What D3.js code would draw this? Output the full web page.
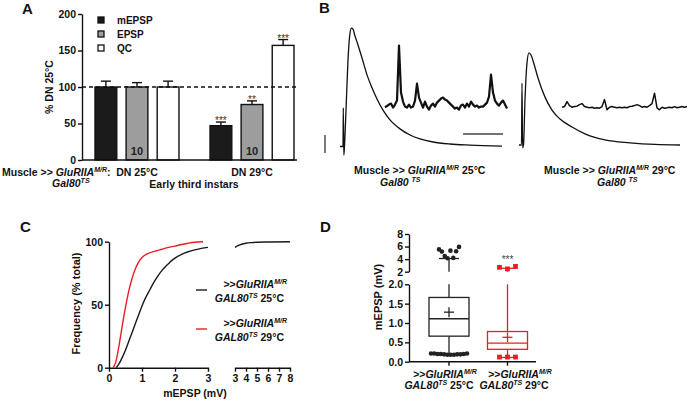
<!DOCTYPE html>
<html>
<head>
<meta charset="utf-8">
<script src="https://cdn.jsdelivr.net/npm/d3@7"></script>
<style>
  body { margin: 0; background: #fff; }
  svg { display: block; }
</style>
</head>
<body>
<svg id="fig" width="688" height="402"></svg>
<script>
// ---- panel A data
const groups = ['DN 25°C', 'DN 29°C'];
const series = ['mEPSP', 'EPSP', 'QC'];
const meansDN25 = [100, 100, 100];
const semDN25 = [8, 6, 8];
const meansDN29 = [47, 76, 157];
const semDN29 = [5, 5, 8];
const starsDN29 = ['***', '**', '***'];
const aTicks = [0, 50, 100, 150, 200];

// ---- panel B data (ms, mV)
const epsp25T = [0, 1.5, 1.65, 1.9, 2.25, 3, 4, 5, 5.75, 6.5, 7.5, 9, 11, 13.5, 16, 18.5, 21.5, 25, 30, 35, 40, 46.5, 55, 65, 81];
const epsp25V = [0, 0, 10.7, -2.4, 0.1, 10.1, 24, 31.5, 32.9, 32.6, 30.7, 28.2, 24.6, 19.9, 16.3, 13.2, 10.1, 7.4, 4.9, 3.2, 2.1, 1.25, 0.7, 0.4, 0.1];
const epsp29T = [0, 1.25, 1.5, 1.8, 2.25, 3, 4, 5, 6, 7.5, 9.5, 13, 16.5, 20.5, 26.5, 33, 43, 55.5, 68, 80.5];
const epsp29V = [0, 0, 17.2, -0.8, 0, 12.5, 22.8, 25.6, 25, 22.5, 18.6, 13.3, 9.7, 7.2, 5, 3.1, 1.4, 0.6, 0.15, 0];
const mini25 = [-0.01,0.05,0.12,0.17,-0.03,0.12,0.32,3.07,0.72,0.27,0.02,-0.03,0.12,-0.03,0.02,0.32,1.17,0.47,0.22,-0.03,0.27,0.02,-0.13,0.07,0.17,0.02,0.22,0.32,0.42,0.47,0.37,0.32,0.22,0.12,0.02,-0.08,-0.03,-0.13,0.07,0.12,-0.03,0.17,0.02,0.27,0.12,0.02,0.07,-0.03,0.02,0.02,0.12,0.22,0.52,1.62,0.72,0.32,0.17,0.07,0.22,0.32,0.12,-0.08];
const mini29 = [-0.01,0.02,0.27,0.07,-0.01,0.02,0.04,0.12,0.17,0.02,-0.01,-0.04,-0.01,-0.06,-0.04,-0.06,0.02,0.37,-0.14,-0.01,0.02,-0.01,-0.04,-0.01,-0.04,-0.01,-0.04,0.02,0.04,0.07,0.12,0.07,-0.01,0.02,-0.01,0.07,0.17,0.69,-0.04,-0.14,-0.01,-0.06,-0.04,-0.01,-0.04,0.02,-0.04,-0.01,0.02,-0.01,0.02];
const scaleBarMV = 5;
const scaleBarMS = 20;

// ---- panel C data
const cdf25mV = [0.22, 0.3, 0.4, 0.5, 0.6, 0.7, 0.8, 0.9, 1.0, 1.1, 1.2, 1.3, 1.4, 1.5, 1.6, 1.7, 1.8, 1.9, 2.0, 2.2, 2.4, 2.6, 2.8, 3.0, 3.3, 3.6, 4.0, 4.5, 5.0, 6.0, 8.0];
const cdf25Pct = [0, 3, 8, 14, 21, 28, 35, 42, 49, 55, 60, 65, 69.5, 73.5, 77, 80, 82.5, 85, 87, 90, 92, 93.5, 94.7, 95.5, 97, 98, 98.8, 99.3, 99.6, 99.8, 100];
const cdf29mV = [0.12, 0.2, 0.3, 0.4, 0.5, 0.6, 0.7, 0.8, 0.9, 1.0, 1.1, 1.2, 1.4, 1.6, 1.8, 2.0, 2.2, 2.4, 2.6, 2.85];
const cdf29Pct = [0, 4, 17, 33, 48, 61, 71, 78.5, 84, 87.5, 89.5, 90.8, 92.5, 94, 95.5, 96.5, 97.8, 98.8, 99.6, 100];

// ---- panel D data
const boxGroups = ['25°C', '29°C'];
const boxLow = [0.17, 0.11];
const boxQ1 = [0.66, 0.32];
const boxMedian = [1.11, 0.48];
const boxQ3 = [1.66, 0.78];
const boxHigh = [4.1, 2.55];
const boxMean = [1.28, 0.63];
const outHigh25 = [5.55, 5.2, 4.5, 4.15, 5.35, 4.2, 5.25, 5.95];
const outLow25 = [0.21, 0.21, 0.2, 0.2, 0.19, 0.18, 0.18, 0.18, 0.19, 0.19, 0.2, 0.21];
const outHigh29 = [2.7, 2.45, 2.85];
const outLow29 = [0.12, 0.12, 0.12];

const FONT = "'Liberation Sans', Arial, Helvetica, sans-serif";
const INK = '#111';
const RED = '#ec1c24';

const svg = d3.select('#fig')
    .attr('font-family', FONT)
    .attr('font-weight', 'bold');
svg.append('rect').attr('width', 688).attr('height', 402).attr('fill', '#fff');

function styleAxis(g) {
    g.attr('font-family', FONT).attr('font-size', 10.5).attr('font-weight', 'bold');
    g.selectAll('path, line').attr('stroke', INK).attr('stroke-width', 1.4);
    g.selectAll('text').attr('fill', INK);
}

// text with italic parts and superscripts
function richText(parent, x, y, parts, anchor, size) {
    const t = parent.append('text')
        .attr('x', x).attr('y', y)
        .attr('font-size', size || 10.5)
        .attr('text-anchor', anchor || 'start')
        .attr('fill', INK);
    let shift = 0;
    parts.forEach(p => {
        const s = t.append('tspan').text(p.t);
        const target = p.sup ? -4 : 0;
        if (target !== shift) { s.attr('dy', target - shift); shift = target; }
        if (p.sup) s.attr('font-size', 7);
        if (p.i) s.attr('font-style', 'italic');
    });
    return t;
}

function panelLetter(x, y, s) {
    svg.append('text').attr('x', x).attr('y', y).attr('font-size', 15).attr('fill', INK).text(s);
}

// ================= A =================
const gA = svg.append('g');
const yA = d3.scaleLinear().domain([0, 200]).range([160, 14]);
const xA = d3.scaleBand().domain(groups).range([95, 294]).paddingInner(0.27);
const xS = d3.scaleBand().domain(series).range([0, xA.bandwidth()]).paddingInner(0.3);
const barFill = { mEPSP: '#1b1b1b', EPSP: '#9d9d9d', QC: '#fff' };

const bars = [];
groups.forEach((g, gi) => {
    series.forEach((s, si) => {
        bars.push({
            g, s,
            v: gi === 0 ? meansDN25[si] : meansDN29[si],
            e: gi === 0 ? semDN25[si] : semDN29[si],
            star: gi === 0 ? '' : starsDN29[si]
        });
    });
});

const barG = gA.selectAll('.bar').data(bars).enter().append('g');
barG.append('line')
    .attr('x1', d => xA(d.g) + xS(d.s) + xS.bandwidth() / 2)
    .attr('x2', d => xA(d.g) + xS(d.s) + xS.bandwidth() / 2)
    .attr('y1', d => yA(d.v)).attr('y2', d => yA(d.v + d.e))
    .attr('stroke', INK).attr('stroke-width', 1.4);
barG.append('line')
    .attr('x1', d => xA(d.g) + xS(d.s) + xS.bandwidth() / 2 - 5)
    .attr('x2', d => xA(d.g) + xS(d.s) + xS.bandwidth() / 2 + 5)
    .attr('y1', d => yA(d.v + d.e)).attr('y2', d => yA(d.v + d.e))
    .attr('stroke', INK).attr('stroke-width', 1.4);
barG.append('rect')
    .attr('x', d => xA(d.g) + xS(d.s))
    .attr('y', d => yA(d.v))
    .attr('width', xS.bandwidth())
    .attr('height', d => yA(0) - yA(d.v))
    .attr('fill', d => barFill[d.s])
    .attr('stroke', INK).attr('stroke-width', 1.4);
barG.append('text')
    .attr('x', d => xA(d.g) + xS(d.s) + xS.bandwidth() / 2)
    .attr('y', d => yA(d.v + d.e) + 2)
    .attr('text-anchor', 'middle').attr('font-size', 10).attr('font-weight', 'normal')
    .attr('fill', '#333')
    .text(d => d.star);
barG.filter(d => d.s === 'EPSP').append('text')
    .attr('x', d => xA(d.g) + xS(d.s) + xS.bandwidth() / 2)
    .attr('y', yA(0) - 5)
    .attr('text-anchor', 'middle').attr('font-size', 11).attr('fill', '#222')
    .text('10');

gA.append('line').attr('x1', 82).attr('x2', 297).attr('y1', yA(100)).attr('y2', yA(100))
    .attr('stroke', INK).attr('stroke-width', 1.4).attr('stroke-dasharray', '4,3');
gA.append('line').attr('x1', 82).attr('x2', 297).attr('y1', yA(0)).attr('y2', yA(0))
    .attr('stroke', INK).attr('stroke-width', 1.4);
gA.append('g').attr('transform', 'translate(82,0)')
    .call(d3.axisLeft(yA).tickValues(aTicks).tickSize(4).tickSizeOuter(0).tickPadding(2))
    .call(styleAxis);

gA.append('text').attr('transform', `translate(53,${yA(100)}) rotate(-90)`)
    .attr('text-anchor', 'middle').attr('font-size', 10.5).attr('fill', INK).text('% DN 25°C');

// legend
series.forEach((s, i) => {
    gA.append('rect').attr('x', 98).attr('y', 17 + i * 14).attr('width', 6).attr('height', 6)
        .attr('fill', barFill[s]).attr('stroke', INK).attr('stroke-width', 1.3);
    gA.append('text').attr('x', 117).attr('y', 24 + i * 14).attr('font-size', 10).attr('fill', INK).text(s);
});

richText(gA, 2, 176, [{ t: 'Muscle >> ' }, { t: 'GluRIIA', i: 1 }, { t: 'M/R', i: 1, sup: 1 }, { t: ':' }]);
richText(gA, 52, 187, [{ t: 'Gal80', i: 1 }, { t: 'TS', i: 1, sup: 1 }]);
groups.forEach(g => {
    gA.append('text').attr('x', xA(g) + xA.bandwidth() / 2).attr('y', 176)
        .attr('text-anchor', 'middle').attr('font-size', 10.5).attr('fill', INK).text(g);
});
gA.append('text').attr('x', 194).attr('y', 188).attr('text-anchor', 'middle')
    .attr('font-size', 10.5).attr('fill', INK).text('Early third instars');
panelLetter(22, 14, 'A');

// ================= B =================
const gB = svg.append('g');
const tX = d3.scaleLinear().domain([0, 10]).range([0, 20]);
const vY = d3.scaleLinear().domain([0, 10]).range([0, -36]);
const traceLine = d3.line().x(d => tX(d[0])).y(d => vY(d[1])).curve(d3.curveMonotoneX);

function drawEpsp(x0, y0, T, V) {
    gB.append('path').attr('transform', `translate(${x0},${y0})`)
        .attr('d', traceLine(T.map((t, i) => [t, V[i]])))
        .attr('fill', 'none').attr('stroke', INK).attr('stroke-width', 1.3);
}
drawEpsp(340, 146.5, epsp25T, epsp25V);
drawEpsp(519, 145, epsp29T, epsp29V);

const miniY = d3.scaleLinear().domain([0, 1]).range([107, 87]);
function drawMini(vals, x0, x1, w) {
    const mx = d3.scaleLinear().domain([0, vals.length - 1]).range([x0, x1]);
    gB.append('path')
        .attr('d', d3.line().x((d, i) => mx(i)).y(d => miniY(d))(vals))
        .attr('fill', 'none').attr('stroke', INK).attr('stroke-width', w).attr('stroke-linejoin', 'round');
}
drawMini(mini25, 385, 507, 2.2);
drawMini(mini29, 562, 687, 1.5);

// scale bars
gB.append('line').attr('x1', 325).attr('x2', 325).attr('y1', 153).attr('y2', 153 + vY(scaleBarMV))
    .attr('stroke', '#444').attr('stroke-width', 1.4);
gB.append('line').attr('x1', 463).attr('x2', 463 + tX(scaleBarMS)).attr('y1', 134).attr('y2', 134)
    .attr('stroke', '#444').attr('stroke-width', 1.4);

richText(gB, 354, 174, [{ t: 'Muscle >> ' }, { t: 'GluRIIA', i: 1 }, { t: 'M/R', i: 1, sup: 1 }, { t: ' 25°C' }]);
richText(gB, 380, 186, [{ t: 'Gal80 ', i: 1 }, { t: 'TS', i: 1, sup: 1 }]);
richText(gB, 544, 174, [{ t: 'Muscle >> ' }, { t: 'GluRIIA', i: 1 }, { t: 'M/R', i: 1, sup: 1 }, { t: ' 29°C' }]);
richText(gB, 597, 186, [{ t: 'Gal80 ', i: 1 }, { t: 'TS', i: 1, sup: 1 }]);
panelLetter(319, 13, 'B');

// ================= C =================
const gC = svg.append('g');
const xC1 = d3.scaleLinear().domain([0, 3]).range([109, 208]);
const xC2 = d3.scaleLinear().domain([3, 8]).range([235, 290]);
const yC = d3.scaleLinear().domain([0, 100]).range([367.7, 241.7]);

gC.append('g').attr('transform', 'translate(109,0)')
    .call(d3.axisLeft(yC).tickValues([0, 50, 100]).tickSize(4).tickSizeOuter(0).tickPadding(2))
    .call(styleAxis);
gC.append('g').attr('transform', `translate(0,${yC(0)})`)
    .call(d3.axisBottom(xC1).tickValues([0, 1, 2, 3]).tickFormat(d3.format('d')).tickSize(4).tickSizeOuter(0).tickPadding(3))
    .call(styleAxis);
gC.append('g').attr('transform', `translate(0,${yC(0)})`)
    .call(d3.axisBottom(xC2).tickValues([3, 4, 5, 6, 7, 8]).tickFormat(d3.format('d')).tickSize(4).tickSizeOuter(0).tickPadding(3))
    .call(styleAxis);

function drawCdf(mv, pct, color) {
    const pts = mv.map((m, i) => [m, pct[i]]);
    const seg1 = pts.filter(d => d[0] <= 3);
    const seg2 = pts.filter(d => d[0] >= 3);
    gC.append('path')
        .attr('d', d3.line().x(d => xC1(d[0])).y(d => yC(d[1])).curve(d3.curveMonotoneX)(seg1))
        .attr('fill', 'none').attr('stroke', color).attr('stroke-width', 1.4);
    if (seg2.length > 1) {
        gC.append('path')
            .attr('d', d3.line().x(d => xC2(d[0])).y(d => yC(d[1])).curve(d3.curveMonotoneX)(seg2))
            .attr('fill', 'none').attr('stroke', color).attr('stroke-width', 1.4);
    }
}
drawCdf(cdf25mV, cdf25Pct, '#1a1a1a');
drawCdf(cdf29mV, cdf29Pct, RED);

gC.append('text').attr('transform', 'translate(80,303.5) rotate(-90)')
    .attr('text-anchor', 'middle').attr('font-size', 11).attr('fill', INK).text('Frequency (% total)');
gC.append('text').attr('x', 195).attr('y', 397).attr('text-anchor', 'middle')
    .attr('font-size', 10.5).attr('fill', INK).text('mEPSP (mV)');

// legend
[['#1a1a1a', '25°C', 290], [RED, '29°C', 329]].forEach(([c, temp, y]) => {
    gC.append('line').attr('x1', 196).attr('x2', 207).attr('y1', y).attr('y2', y)
        .attr('stroke', c).attr('stroke-width', 1.4);
    richText(gC, 287, y - 2, [{ t: '>>' }, { t: 'GluRIIA', i: 1 }, { t: 'M/R', i: 1, sup: 1 }], 'end');
    richText(gC, 284, y + 12, [{ t: 'GAL80', i: 1 }, { t: 'TS', i: 1, sup: 1 }, { t: ' ' + temp }], 'end');
});
panelLetter(20, 232, 'C');

// ================= D =================
const gD = svg.append('g');
const yDlo = d3.scaleLinear().domain([0, 2]).range([361.7, 284.3]);
const yDhi = d3.scaleLinear().domain([2, 8]).range([271.7, 234]);
const xD = d3.scaleBand().domain(boxGroups).range([429, 527.5]).paddingInner(0.316);
const boxColor = ['#222', RED];

gD.append('g').attr('transform', 'translate(409,0)')
    .call(d3.axisLeft(yDhi).tickValues([2, 4, 6, 8]).tickFormat(d3.format('d')).tickSize(4).tickSizeOuter(0).tickPadding(2))
    .call(styleAxis);
gD.append('g').attr('transform', 'translate(409,0)')
    .call(d3.axisLeft(yDlo).tickValues([0, 0.5, 1, 1.5, 2]).tickFormat(d3.format('.1f')).tickSize(4).tickSizeOuter(0).tickPadding(2))
    .call(styleAxis);
gD.append('line').attr('x1', 409).attr('x2', 536).attr('y1', yDlo(0)).attr('y2', yDlo(0))
    .attr('stroke', INK).attr('stroke-width', 1.4);

boxGroups.forEach((g, i) => {
    const c = boxColor[i];
    const x0 = xD(g), w = xD.bandwidth(), cx = x0 + w / 2;
    const bg = gD.append('g').attr('stroke', c).attr('stroke-width', 1.3).attr('fill', 'none');
    // x tick
    gD.append('line').attr('x1', cx).attr('x2', cx).attr('y1', yDlo(0)).attr('y2', yDlo(0) + 4)
        .attr('stroke', INK).attr('stroke-width', 1.4);
    // whiskers
    bg.append('line').attr('x1', cx).attr('x2', cx).attr('y1', yDlo(boxLow[i])).attr('y2', yDlo(boxQ1[i]));
    bg.append('line').attr('x1', cx).attr('x2', cx).attr('y1', yDlo(boxQ3[i])).attr('y2', yDlo(2));
    bg.append('line').attr('x1', cx).attr('x2', cx).attr('y1', yDhi(2)).attr('y2', yDhi(boxHigh[i]));
    bg.append('line').attr('x1', cx - w / 4).attr('x2', cx + w / 4).attr('y1', yDhi(boxHigh[i])).attr('y2', yDhi(boxHigh[i]));
    bg.append('line').attr('x1', cx - w / 4).attr('x2', cx + w / 4).attr('y1', yDlo(boxLow[i])).attr('y2', yDlo(boxLow[i]));
    // box
    bg.append('rect').attr('x', x0).attr('y', yDlo(boxQ3[i])).attr('width', w)
        .attr('height', yDlo(boxQ1[i]) - yDlo(boxQ3[i])).attr('fill', '#fff');
    bg.append('line').attr('x1', x0).attr('x2', x0 + w).attr('y1', yDlo(boxMedian[i])).attr('y2', yDlo(boxMedian[i]));
    // mean +
    const my = yDlo(boxMean[i]);
    bg.append('line').attr('x1', cx - 5).attr('x2', cx + 5).attr('y1', my).attr('y2', my);
    bg.append('line').attr('x1', cx).attr('x2', cx).attr('y1', my - 5).attr('y2', my + 5);
});

function drawOutliers(vals, g, spread, yScale, shape) {
    const i = boxGroups.indexOf(g);
    const cx = xD(g) + xD.bandwidth() / 2;
    const px = d3.scalePoint().domain(d3.range(vals.length)).range([cx - spread / 2, cx + spread / 2]);
    const sel = gD.selectAll(null).data(vals).enter();
    if (shape === 'circle') {
        sel.append('circle').attr('cx', (d, k) => px(k)).attr('cy', d => yScale(d)).attr('r', 2.3)
            .attr('fill', boxColor[i]);
    } else {
        sel.append('rect').attr('x', (d, k) => px(k) - 2.4).attr('y', d => yScale(d) - 2.4)
            .attr('width', 4.8).attr('height', 4.8).attr('fill', boxColor[i]);
    }
}
drawOutliers(outHigh25, '25°C', 20, yDhi, 'circle');
drawOutliers(outLow25, '25°C', 36, yDlo, 'circle');
drawOutliers(outHigh29, '29°C', 16, yDhi, 'square');
drawOutliers(outLow29, '29°C', 16, yDlo, 'square');

gD.append('text').attr('x', xD('29°C') + xD.bandwidth() / 2).attr('y', 263)
    .attr('text-anchor', 'middle').attr('font-size', 10).attr('font-weight', 'normal')
    .attr('fill', '#444').text('***');

gD.append('text').attr('transform', 'translate(382,297) rotate(-90)')
    .attr('text-anchor', 'middle').attr('font-size', 11).attr('fill', INK).text('mEPSP (mV)');

richText(gD, 445, 378, [{ t: '>>' }, { t: 'GluRIIA', i: 1 }, { t: 'M/R', i: 1, sup: 1 }], 'middle');
richText(gD, 439, 389, [{ t: 'GAL80', i: 1 }, { t: 'TS', i: 1, sup: 1 }, { t: ' 25°C' }], 'middle');
richText(gD, 520, 378, [{ t: '>>' }, { t: 'GluRIIA', i: 1 }, { t: 'M/R', i: 1, sup: 1 }], 'middle');
richText(gD, 514, 389, [{ t: 'GAL80', i: 1 }, { t: 'TS', i: 1, sup: 1 }, { t: ' 29°C' }], 'middle');
panelLetter(320, 232, 'D');
</script>
</body>
</html>
